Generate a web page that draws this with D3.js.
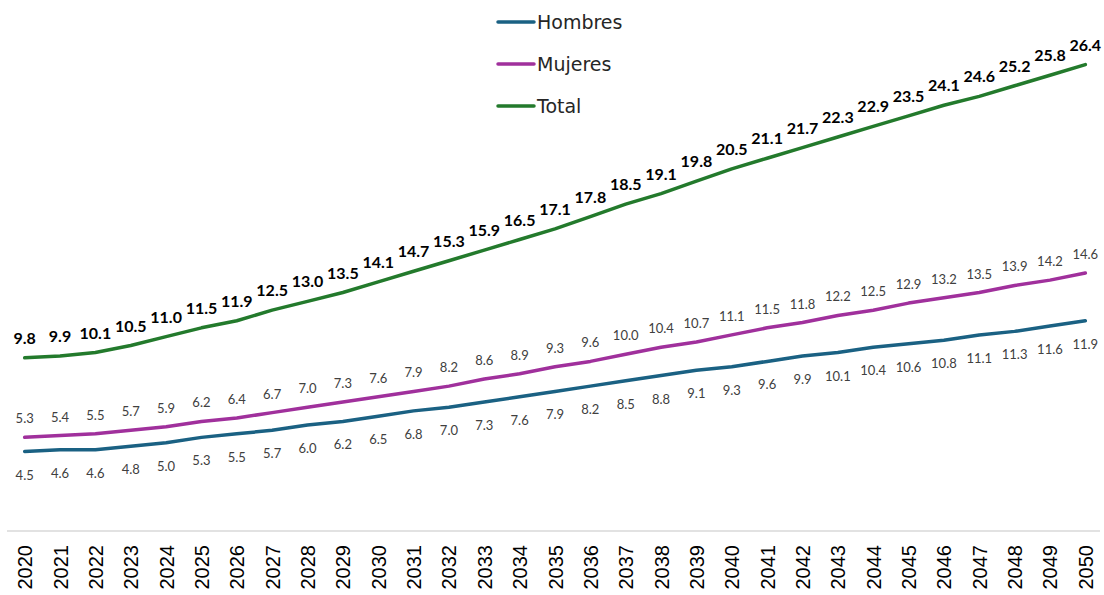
<!DOCTYPE html>
<html>
<head>
<meta charset="utf-8">
<script src="https://cdn.jsdelivr.net/npm/d3@7/dist/d3.min.js"></script>
<style>
  html, body { margin: 0; padding: 0; background: #fff; }
  svg { display: block; }
</style>
</head>
<body>
<svg id="chart" width="1104" height="595"></svg>
<script>
// Población proyectada (millones) por sexo, 2020–2050
const years = d3.range(2020, 2051).map(String);
const hombres = [4.5, 4.6, 4.6, 4.8, 5.0, 5.3, 5.5, 5.7, 6.0, 6.2, 6.5, 6.8, 7.0, 7.3, 7.6, 7.9, 8.2, 8.5, 8.8, 9.1, 9.3, 9.6, 9.9, 10.1, 10.4, 10.6, 10.8, 11.1, 11.3, 11.6, 11.9];
const mujeres = [5.3, 5.4, 5.5, 5.7, 5.9, 6.2, 6.4, 6.7, 7.0, 7.3, 7.6, 7.9, 8.2, 8.6, 8.9, 9.3, 9.6, 10.0, 10.4, 10.7, 11.1, 11.5, 11.8, 12.2, 12.5, 12.9, 13.2, 13.5, 13.9, 14.2, 14.6];
const total = [9.8, 9.9, 10.1, 10.5, 11.0, 11.5, 11.9, 12.5, 13.0, 13.5, 14.1, 14.7, 15.3, 15.9, 16.5, 17.1, 17.8, 18.5, 19.1, 19.8, 20.5, 21.1, 21.7, 22.3, 22.9, 23.5, 24.1, 24.6, 25.2, 25.8, 26.4];
const seriesNames = ["Hombres", "Mujeres", "Total"];
const seriesColors = ["#1a6183", "#a0309c", "#237a2c"];

const series = [
  { name: seriesNames[0], values: hombres, color: seriesColors[0], labelPos: "below", bold: false },
  { name: seriesNames[1], values: mujeres, color: seriesColors[1], labelPos: "above", bold: false },
  { name: seriesNames[2], values: total,   color: seriesColors[2], labelPos: "above", bold: true }
];

const svg = d3.select("#chart");
const plot = { left: 7, right: 1103, top: 1, bottom: 531 };

const x = d3.scalePoint().domain(years).range([plot.left, plot.right]).padding(0.5);
const y = d3.scaleLinear().domain([0, 30]).range([plot.bottom, plot.top]);

// Category axis
const xAxis = d3.axisBottom(x).tickSize(0).tickPadding(0);
const gx = svg.append("g").attr("transform", `translate(0,${plot.bottom})`).call(xAxis);
gx.select(".domain").attr("stroke", "#d9d9d9").attr("stroke-width", 1.3)
  .attr("d", `M${plot.left},0H${plot.right - 3}`);
gx.selectAll(".tick text")
  .attr("font-family", "'Liberation Sans', Arial, sans-serif")
  .attr("font-size", 20)
  .attr("fill", "#000")
  .attr("text-anchor", "end")
  .attr("transform", "translate(7,14) rotate(-90)")
  .attr("x", 0).attr("y", 0).attr("dy", 0);

const line = d3.line().x((d, i) => x(years[i])).y(d => y(d));

series.forEach(s => {
  svg.append("path")
    .datum(s.values)
    .attr("fill", "none")
    .attr("stroke", s.color)
    .attr("stroke-width", 3.5)
    .attr("stroke-linejoin", "round")
    .attr("stroke-linecap", "round")
    .attr("d", line);

  svg.append("g").selectAll("text")
    .data(s.values)
    .join("text")
    .attr("x", (d, i) => x(years[i]))
    .attr("y", d => s.labelPos === "above" ? y(d) - 14 : y(d) + 28)
    .attr("text-anchor", "middle")
    .attr("font-family", "Lato, 'Noto Sans', sans-serif")
    .attr("font-size", s.bold ? 16 : 13)
    .attr("font-weight", s.bold ? 700 : 400)
    .attr("fill", s.bold ? "#000" : "#404040")
    .text(d => d.toFixed(1));
});

// Legend
const legend = svg.append("g");
series.forEach((s, i) => {
  const ly = 22 + i * 42;
  legend.append("line")
    .attr("x1", 498).attr("x2", 534).attr("y1", ly).attr("y2", ly)
    .attr("stroke", s.color).attr("stroke-width", 3.5).attr("stroke-linecap", "round");
  legend.append("text")
    .attr("x", 537).attr("y", ly + 7)
    .attr("font-family", "'DejaVu Sans', sans-serif")
    .attr("font-size", 19)
    .attr("fill", "#262626")
    .text(s.name);
});
</script>
</body>
</html>
